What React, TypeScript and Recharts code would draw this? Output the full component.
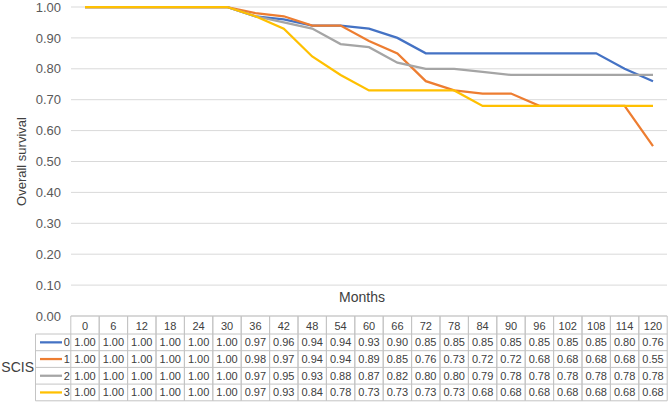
import React from 'react';
import { LineChart, Line, XAxis, YAxis, CartesianGrid } from 'recharts';

const months = [0, 6, 12, 18, 24, 30, 36, 42, 48, 54, 60, 66, 72, 78, 84, 90, 96, 102, 108, 114, 120];
const scis0 = [1.0, 1.0, 1.0, 1.0, 1.0, 1.0, 0.97, 0.96, 0.94, 0.94, 0.93, 0.9, 0.85, 0.85, 0.85, 0.85, 0.85, 0.85, 0.85, 0.8, 0.76];
const scis1 = [1.0, 1.0, 1.0, 1.0, 1.0, 1.0, 0.98, 0.97, 0.94, 0.94, 0.89, 0.85, 0.76, 0.73, 0.72, 0.72, 0.68, 0.68, 0.68, 0.68, 0.55];
const scis2 = [1.0, 1.0, 1.0, 1.0, 1.0, 1.0, 0.97, 0.95, 0.93, 0.88, 0.87, 0.82, 0.8, 0.8, 0.79, 0.78, 0.78, 0.78, 0.78, 0.78, 0.78];
const scis3 = [1.0, 1.0, 1.0, 1.0, 1.0, 1.0, 0.97, 0.93, 0.84, 0.78, 0.73, 0.73, 0.73, 0.73, 0.68, 0.68, 0.68, 0.68, 0.68, 0.68, 0.68];
const seriesNames = ['0', '1', '2', '3'];
const seriesKeys = ['s0', 's1', 's2', 's3'];
const seriesValues = [scis0, scis1, scis2, scis3];
const seriesColors = ['#4472C4', '#ED7D31', '#A5A5A5', '#FFC000'];
const yTicks = [0, 0.1, 0.2, 0.3, 0.4, 0.5, 0.6, 0.7, 0.8, 0.9, 1.0];
const legendTitle = 'SCIS';
const xTitle = 'Months';
const yTitle = 'Overall survival';

const data = months.map((m, i) => ({
  month: String(m),
  s0: scis0[i],
  s1: scis1[i],
  s2: scis2[i],
  s3: scis3[i],
}));

const FONT = '"Liberation Sans", Arial, Helvetica, sans-serif';
const HEADER_H = 18;
const ROW_H = 16.7;
const PAD = 14;
const BORDER = '#c4c4c4';
const TEXT = '#404040';

function TableTick(props: any) {
  const { x, y, index, visibleTicksCount, width } = props;
  const n = visibleTicksCount || months.length;
  const colW = width ? (width - 2 * PAD) / (n - 1) : 28.4;
  const left = x - colW / 2;
  const right = x + colW / 2;
  const top = y;
  const rowsTop = top + HEADER_H;
  const bottom = rowsTop + seriesValues.length * ROW_H;
  const els: any[] = [];
  // header
  els.push(
    <text key="h" x={x} y={top + HEADER_H / 2 + 1} textAnchor="middle" dominantBaseline="central" fontSize={11} fill={TEXT} fontFamily={FONT}>
      {months[index]}
    </text>
  );
  els.push(<line key="vl" x1={left} x2={left} y1={top} y2={bottom} stroke={BORDER} strokeWidth={1} />);
  els.push(<line key="vr" x1={right} x2={right} y1={top} y2={bottom} stroke={BORDER} strokeWidth={1} />);
  els.push(<line key="ht" x1={left} x2={right} y1={top} y2={top} stroke={BORDER} strokeWidth={1} />);
  for (let r = 0; r < seriesValues.length; r++) {
    const ry = rowsTop + r * ROW_H;
    els.push(<line key={'hl' + r} x1={left} x2={right} y1={ry} y2={ry} stroke={BORDER} strokeWidth={1} />);
    els.push(
      <text key={'c' + r} x={x} y={ry + ROW_H / 2} textAnchor="middle" dominantBaseline="central" fontSize={11} fill={TEXT} fontFamily={FONT}>
        {seriesValues[r][index].toFixed(2)}
      </text>
    );
  }
  els.push(<line key="hb" x1={left} x2={right} y1={bottom} y2={bottom} stroke={BORDER} strokeWidth={1} />);

  if (index === 0) {
    const lLeft = 35.5;
    els.push(<line key="ll" x1={lLeft} x2={lLeft} y1={rowsTop} y2={bottom} stroke={BORDER} strokeWidth={1} />);
    for (let r = 0; r <= seriesValues.length; r++) {
      const ry = rowsTop + r * ROW_H;
      els.push(<line key={'lh' + r} x1={lLeft} x2={left} y1={ry} y2={ry} stroke={BORDER} strokeWidth={1} />);
    }
    for (let r = 0; r < seriesValues.length; r++) {
      const cy = rowsTop + r * ROW_H + ROW_H / 2;
      els.push(<line key={'ls' + r} x1={40} x2={62} y1={cy} y2={cy} stroke={seriesColors[r]} strokeWidth={2.25} />);
      els.push(
        <text key={'ln' + r} x={left - 1} y={cy} textAnchor="end" dominantBaseline="central" fontSize={11} fill={TEXT} fontFamily={FONT}>
          {seriesNames[r]}
        </text>
      );
    }
    els.push(
      <text key="scis" x={34} y={(rowsTop + bottom) / 2} textAnchor="end" dominantBaseline="central" fontSize={14} fill={TEXT} fontFamily={FONT}>
        {legendTitle}
      </text>
    );
  }
  if (index === Math.floor(n / 2)) {
    els.push(
      <text key="months" x={x - 7} y={top - 19} textAnchor="middle" dominantBaseline="central" fontSize={14} fill={TEXT} fontFamily={FONT}>
        {xTitle}
      </text>
    );
  }
  return <g>{els}</g>;
}

function YTitle(props: any) {
  const vb = props.viewBox || { x: 0, y: 7, width: 71, height: 309 };
  const cy = vb.y + vb.height / 2;
  return (
    <text x={21} y={cy} transform={`rotate(-90, 21, ${cy})`} textAnchor="middle" dominantBaseline="central" fontSize={13} fill={TEXT} fontFamily={FONT}>
      {yTitle}
    </text>
  );
}

export default function App() {
  return (
    <div style={{ position: 'absolute', left: 0, top: 0, width: 668, height: 404, background: '#fff' }}>
      <LineChart width={668} height={404} data={data} margin={{ top: 7, right: 1, left: 0, bottom: 0 }}>
        <CartesianGrid vertical={false} stroke="#d9d9d9" strokeWidth={1} />
        <XAxis
          dataKey="month"
          type="category"
          height={88}
          interval={0}
          tickLine={false}
          axisLine={false}
          tickSize={0}
          tickMargin={0}
          padding={{ left: PAD, right: PAD }}
          tick={(p: any) => <TableTick {...p} />}
        />
        <YAxis
          width={71}
          domain={[0, 1]}
          ticks={yTicks}
          interval={0}
          tickFormatter={(v: number) => v.toFixed(2)}
          axisLine={false}
          tickLine={false}
          tickSize={0}
          tickMargin={10}
          tick={{ fontSize: 13, fill: '#595959', fontFamily: FONT }}
          label={<YTitle />}
        />
        {seriesKeys.map((k, i) => (
          <Line
            key={k}
            type="linear"
            dataKey={k}
            stroke={seriesColors[i]}
            strokeWidth={2.25}
            dot={false}
            activeDot={false}
            isAnimationActive={false}
          />
        ))}
      </LineChart>
    </div>
  );
}
